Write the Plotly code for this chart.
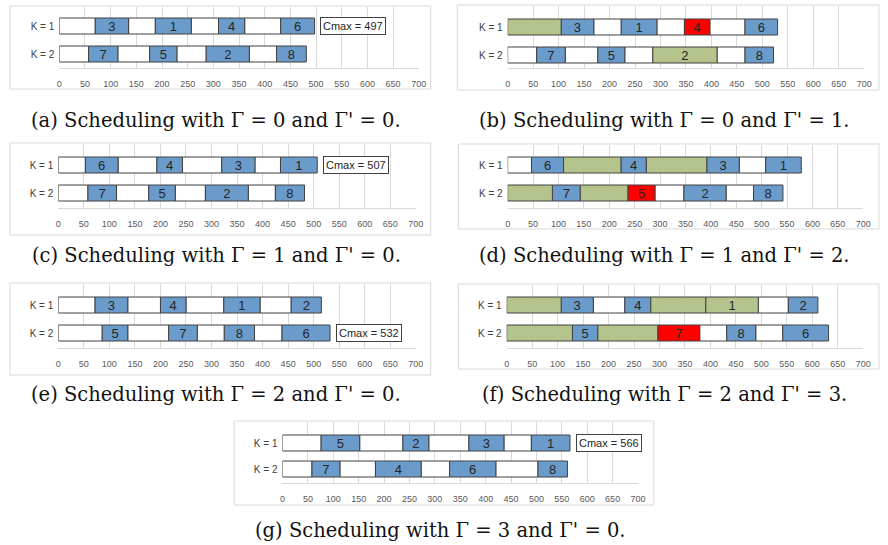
import plotly.graph_objects as go

W, H = 888, 545

# ---------------- data (segment end times, segment kinds, job labels) ----------------
# kinds: w = idle/setup (white), b = job (blue), g = delay (green), r = disrupted job (red)
A_K1_END = [70, 135, 187, 257, 310, 361, 431, 497]
A_K1_KIND = ["w", "b", "w", "b", "w", "b", "w", "b"]
A_K1_JOB = ["", "3", "", "1", "", "4", "", "6"]
A_K2_END = [57, 114, 176, 229, 286, 370, 423, 481]
A_K2_KIND = ["w", "b", "w", "b", "w", "b", "w", "b"]
A_K2_JOB = ["", "7", "", "5", "", "2", "", "8"]

B_K1_END = [105, 169, 223, 293, 347, 397, 466, 530]
B_K1_KIND = ["g", "b", "w", "b", "w", "r", "w", "b"]
B_K1_JOB = ["", "3", "", "1", "", "4", "", "6"]
B_K2_END = [57, 113, 177, 230, 285, 411, 466, 522]
B_K2_KIND = ["w", "b", "w", "b", "w", "g", "w", "b"]
B_K2_JOB = ["", "7", "", "5", "", "2", "", "8"]

C_K1_END = [53, 117, 193, 243, 320, 385, 435, 507]
C_K1_KIND = ["w", "b", "w", "b", "w", "b", "w", "b"]
C_K1_JOB = ["", "6", "", "4", "", "3", "", "1"]
C_K2_END = [58, 114, 177, 229, 288, 372, 425, 482]
C_K2_KIND = ["w", "b", "w", "b", "w", "b", "w", "b"]
C_K2_JOB = ["", "7", "", "5", "", "2", "", "8"]

D_K1_END = [47, 110, 223, 273, 392, 456, 508, 578]
D_K1_KIND = ["w", "b", "g", "b", "g", "b", "w", "b"]
D_K1_JOB = ["", "6", "", "4", "", "3", "", "1"]
D_K2_END = [88, 143, 237, 290, 347, 430, 484, 542]
D_K2_KIND = ["g", "b", "g", "r", "w", "b", "w", "b"]
D_K2_JOB = ["", "7", "", "5", "", "2", "", "8"]

E_K1_END = [72, 136, 200, 250, 324, 395, 456, 515]
E_K1_KIND = ["w", "b", "w", "b", "w", "b", "w", "b"]
E_K1_JOB = ["", "3", "", "4", "", "1", "", "2"]
E_K2_END = [86, 136, 216, 272, 325, 384, 438, 532]
E_K2_KIND = ["w", "b", "w", "b", "w", "b", "w", "b"]
E_K2_JOB = ["", "5", "", "7", "", "8", "", "6"]

F_K1_END = [107, 170, 232, 283, 391, 494, 553, 611]
F_K1_KIND = ["g", "b", "w", "b", "g", "g", "w", "b"]
F_K1_JOB = ["", "3", "", "4", "", "1", "", "2"]
F_K2_END = [129, 179, 297, 379, 432, 489, 542, 632]
F_K2_KIND = ["g", "b", "g", "r", "w", "b", "w", "b"]
F_K2_JOB = ["", "5", "", "7", "", "8", "", "6"]

G_K1_END = [76, 152, 237, 288, 367, 436, 490, 566]
G_K1_KIND = ["w", "b", "w", "b", "w", "b", "w", "b"]
G_K1_JOB = ["", "5", "", "2", "", "3", "", "1"]
G_K2_END = [58, 113, 183, 273, 329, 420, 503, 561]
G_K2_KIND = ["w", "b", "w", "b", "w", "b", "w", "b"]
G_K2_JOB = ["", "7", "", "4", "", "6", "", "8"]

# Cmax boxes: (value, machine row)
CMAX = {"a": (497, "K = 1"), "c": (507, "K = 1"), "e": (532, "K = 2"), "g": (566, "K = 1")}

CAPTIONS = {
    "a": "(a) Scheduling with Γ = 0 and Γ' = 0.",
    "b": "(b) Scheduling with Γ = 0 and Γ' = 1.",
    "c": "(c) Scheduling with Γ = 1 and Γ' = 0.",
    "d": "(d) Scheduling with Γ = 1 and Γ' = 2.",
    "e": "(e) Scheduling with Γ = 2 and Γ' = 0.",
    "f": "(f) Scheduling with Γ = 2 and Γ' = 3.",
    "g": "(g) Scheduling with Γ = 3 and Γ' = 0.",
}

MACHINES = ["K = 2", "K = 1"]
X_TICKS = list(range(0, 701, 50))

DATA = {
    "a": [(A_K1_END, A_K1_KIND, A_K1_JOB), (A_K2_END, A_K2_KIND, A_K2_JOB)],
    "b": [(B_K1_END, B_K1_KIND, B_K1_JOB), (B_K2_END, B_K2_KIND, B_K2_JOB)],
    "c": [(C_K1_END, C_K1_KIND, C_K1_JOB), (C_K2_END, C_K2_KIND, C_K2_JOB)],
    "d": [(D_K1_END, D_K1_KIND, D_K1_JOB), (D_K2_END, D_K2_KIND, D_K2_JOB)],
    "e": [(E_K1_END, E_K1_KIND, E_K1_JOB), (E_K2_END, E_K2_KIND, E_K2_JOB)],
    "f": [(F_K1_END, F_K1_KIND, F_K1_JOB), (F_K2_END, F_K2_KIND, F_K2_JOB)],
    "g": [(G_K1_END, G_K1_KIND, G_K1_JOB), (G_K2_END, G_K2_KIND, G_K2_JOB)],
}

# ---------------- layout (pixel positions) ----------------
LAYOUT = {
    #      x0   x1   k1   k2   bot  box(l,t,r,b)            caption(cx,cy)
    "a": (57, 421, 26, 54, 68, (7, 6, 433, 89), (216, 120)),
    "b": (511, 872, 27, 55, 68, (460, 5, 887, 90), (670, 120)),
    "c": (56, 418, 165, 193, 208, (7, 143, 433, 235), (216, 255)),
    "d": (511, 871, 165, 193, 208, (461, 144, 887, 229), (670, 255)),
    "e": (56, 418, 305, 333, 348, (7, 283, 433, 375), (216, 394)),
    "f": (510, 871, 305, 333, 348, (461, 284, 887, 369), (670, 394)),
    "g": (283, 643, 443, 469, 483, (234, 421, 659, 505), (443, 530)),
}

COLORS = {"w": "#ffffff", "b": "#6a9bcb", "g": "#b5c48c", "r": "#ff0000"}
EDGE = "#404040"
GRID = "#d9d9d9"
SANS = "Liberation Sans, Arial, sans-serif"
SERIF = "DejaVu Serif, serif"

fig = go.Figure()
shapes = []
annotations = []

for i, key in enumerate(["a", "b", "c", "d", "e", "f", "g"], start=1):
    x0, x1, k1, k2, bot, box, cap = LAYOUT[key]
    top = box[1] + 1
    u = k2 - k1
    xa = "x" if i == 1 else f"x{i}"
    ya = "y" if i == 1 else f"y{i}"
    bw = 16.0 / u

    for row_idx, (ends, kinds, jobs) in enumerate(DATA[key]):
        yval = 1 if row_idx == 0 else 0
        starts = [0] + ends[:-1]
        for kind in ["w", "b", "g", "r"]:
            idx = [j for j, k in enumerate(kinds) if k == kind]
            if not idx:
                continue
            fig.add_trace(go.Bar(
                orientation="h",
                y=[yval] * len(idx),
                base=[starts[j] for j in idx],
                x=[ends[j] - starts[j] for j in idx],
                width=bw,
                text=[jobs[j] for j in idx],
                textposition="inside",
                insidetextanchor="middle",
                textangle=0,
                textfont=dict(family=SANS, size=13, color="#262626"),
                marker=dict(color=COLORS[kind], line=dict(color=EDGE, width=1)),
                hoverinfo="skip",
                showlegend=False,
                xaxis=xa, yaxis=ya,
            ))

    lo = -(bot - k2) / u
    hi = 1 + (k1 - top) / u
    fig.update_layout({
        ("xaxis" if i == 1 else f"xaxis{i}"): dict(
            domain=[x0 / W, x1 / W], anchor=ya, range=[0, 700],
            tickvals=X_TICKS, showgrid=True, gridcolor=GRID, gridwidth=1,
            showline=True, linecolor=GRID, linewidth=1, zeroline=False,
            ticks="", tickfont=dict(family=SANS, size=9, color="#595959"),
            ticklabelstandoff=7, fixedrange=True,
        ),
        ("yaxis" if i == 1 else f"yaxis{i}"): dict(
            domain=[1 - bot / H, 1 - top / H], anchor=xa, range=[lo, hi],
            tickvals=[0, 1], ticktext=MACHINES, showgrid=False, zeroline=False,
            showline=False, ticks="", tickfont=dict(family=SANS, size=10, color="#404040"),
            ticklabelstandoff=4, fixedrange=True,
        ),
    })

    # panel border
    shapes.append(dict(type="rect", xref="paper", yref="paper",
                       x0=box[0] / W, x1=box[2] / W, y0=1 - box[3] / H, y1=1 - box[1] / H,
                       line=dict(color=GRID, width=1), fillcolor="rgba(0,0,0,0)", layer="below"))

    # caption
    annotations.append(dict(xref="paper", yref="paper", x=cap[0] / W, y=1 - cap[1] / H,
                            xanchor="center", yanchor="middle", showarrow=False,
                            text=CAPTIONS[key], font=dict(family=SERIF, size=19.5, color="#111111")))

    # Cmax box
    if key in CMAX:
        val, row = CMAX[key]
        annotations.append(dict(xref=xa, yref=ya, x=val + 11, y=1 if row == "K = 1" else 0,
                                xanchor="left", yanchor="middle", showarrow=False,
                                text=f"Cmax = {val}",
                                font=dict(family=SANS, size=11, color="#262626"),
                                bgcolor="#ffffff", bordercolor=EDGE, borderwidth=1, borderpad=2))

fig.update_layout(
    width=W, height=H, margin=dict(l=0, r=0, t=0, b=0),
    paper_bgcolor="#ffffff", plot_bgcolor="#ffffff",
    barmode="overlay", bargap=0,
    shapes=shapes, annotations=annotations,
    uniformtext=dict(minsize=11, mode="show"),
)

fig.write_html("out.html",
               config={"displayModeBar": False, "staticPlot": True},
               post_script="document.body.style.margin='0px';document.body.style.overflow='hidden';")
